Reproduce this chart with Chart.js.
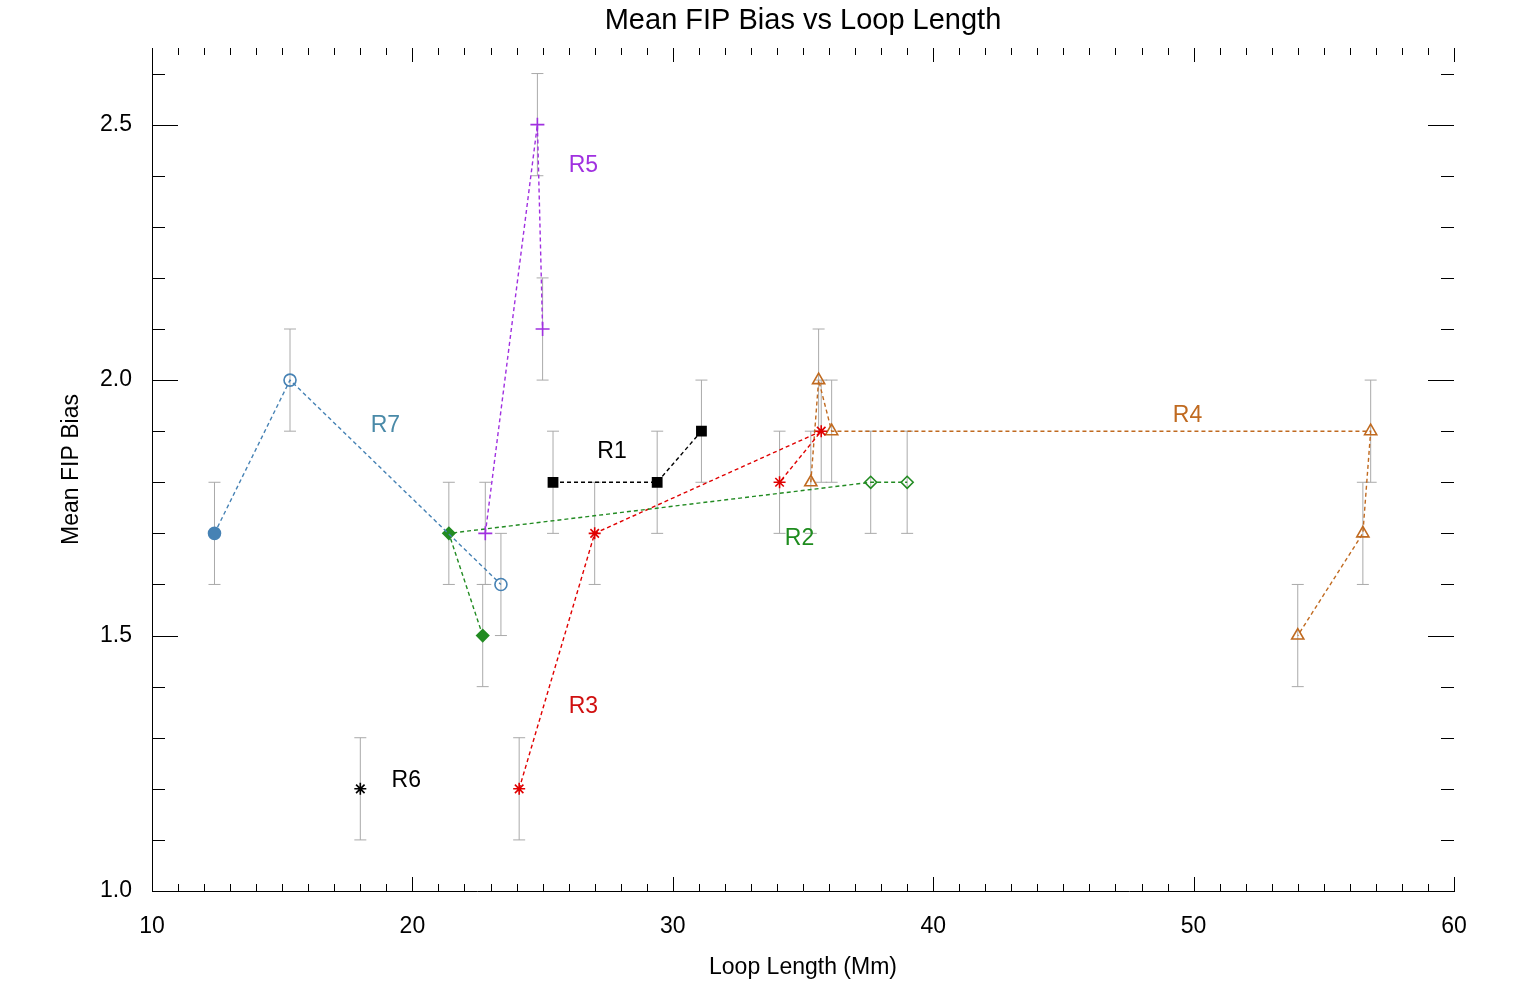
<!DOCTYPE html>
<html><head><meta charset="utf-8">
<script src="https://cdn.jsdelivr.net/npm/chart.js@4"></script>
<style>html,body{margin:0;padding:0;background:#fff}#w{width:1530px;height:992px}</style>
</head><body><div id="w"><canvas id="c"></canvas></div>
<script>
const r7x=[12.4,15.3,23.4], r7y=[1.7,2.0,1.6];
const r5x=[22.8,24.8,25.0], r5y=[1.7,2.5,2.1];
const r2x=[22.7,21.4,37.6,39.0], r2y=[1.5,1.7,1.8,1.8];
const r1x=[25.4,29.4,31.1], r1y=[1.8,1.8,1.9];
const r3x=[24.1,27.0,35.7,34.1], r3y=[1.2,1.7,1.9,1.8];
const r6x=[18.0], r6y=[1.2];
const r4x=[35.3,35.6,36.1,56.8,56.5,54.0], r4y=[1.8,2.0,1.9,1.9,1.7,1.5];
const errBar=0.1;
const yTicks=[1.0,1.5,2.0,2.5];
const labels=[["R5",26.0,2.42,"#a030e0"],["R7",18.4,1.91,"#4a8aa8"],["R1",27.1,1.86,"#000"],["R4",49.2,1.93,"#c06a20"],["R2",34.3,1.69,"#1e8c1e"],["R3",26.0,1.36,"#d01010"],["R6",19.2,1.215,"#000"]];
const pts=(xs,ys)=>xs.map((x,i)=>({x,y:ys[i]}));
function ds(xs,ys,col,style,fills,r,showLine=true){
  return {data:pts(xs,ys),borderColor:col,pointBorderColor:col,pointBackgroundColor:fills.map(f=>f?col:'rgba(0,0,0,0)'),
    pointStyle:style,pointRadius:r,pointBorderWidth:1.6,borderWidth:1.4,borderDash:[4,3],showLine,fill:false,tension:0};
}
const data={datasets:[
  ds(r7x,r7y,'#4682b4','circle',[1,0,0],6),
  ds(r5x,r5y,'#a030e0','cross',[0,0,0],7),
  ds(r2x,r2y,'#228b22','rectRot',[1,1,0,0],6),
  ds(r1x,r1y,'#000','rect',[1,1,1],6.5),
  ds(r3x,r3y,'#e00000','star',[0,0,0,0],6),
  ds(r6x,r6y,'#000','star',[0],6,false),
  ds(r4x,r4y,'#c06a20','triangle',[0,0,0,0,0,0],7),
]};
const F='"Liberation Sans", Arial';
const deco={id:'deco',
  beforeDatasetsDraw(ch){
    const c=ch.ctx,xs=ch.scales.x,ys=ch.scales.y;
    c.save();c.strokeStyle='#aaa';c.lineWidth=1;
    ch.data.datasets.forEach(d=>d.data.forEach(p=>{
      const px=xs.getPixelForValue(p.x),a=ys.getPixelForValue(p.y-errBar),b=ys.getPixelForValue(p.y+errBar);
      c.beginPath();c.moveTo(px,a);c.lineTo(px,b);
      c.moveTo(px-6,a);c.lineTo(px+6,a);c.moveTo(px-6,b);c.lineTo(px+6,b);c.stroke();
    }));
    c.restore();
  },
  afterDraw(ch){
    const c=ch.ctx,xs=ch.scales.x,ys=ch.scales.y,A=ch.chartArea;
    c.save();c.strokeStyle='#000';c.lineWidth=1;c.beginPath();
    for(let v=10;v<=60;v++){const px=Math.round(xs.getPixelForValue(v))+0.5,L=v%10===0?14:7;
      c.moveTo(px,A.bottom);c.lineTo(px,A.bottom-L);c.moveTo(px,A.top);c.lineTo(px,A.top+L);}
    for(let k=10;k<=26;k++){const v=k/10,py=Math.round(ys.getPixelForValue(v))+0.5,L=k%5===0?26:13;
      c.moveTo(A.left,py);c.lineTo(A.left+L,py);c.moveTo(A.right,py);c.lineTo(A.right-L,py);}
    c.stroke();
    c.font='23px '+F;c.textAlign='left';c.textBaseline='middle';
    labels.forEach(([t,x,y,col])=>{c.fillStyle=col;c.fillText(t,xs.getPixelForValue(x),ys.getPixelForValue(y));});
    c.fillStyle='#000';c.font='29px '+F;c.textAlign='center';
    c.fillText('Mean FIP Bias vs Loop Length',(A.left+A.right)/2,21);
    c.font='23px '+F;
    c.fillText('Loop Length (Mm)',(A.left+A.right)/2,968);
    c.translate(72,(A.top+A.bottom)/2);c.rotate(-Math.PI/2);c.fillText('Mean FIP Bias',0,0);
    c.restore();
  }};
new Chart(document.getElementById('c'),{type:'scatter',data,plugins:[deco],
 options:{responsive:true,maintainAspectRatio:false,animation:false,
  layout:{padding:{top:48,right:76,left:0,bottom:0}},
  plugins:{legend:{display:false},tooltip:{enabled:false}},
  scales:{
   x:{min:10,max:60,grid:{display:false},border:{color:'#000'},
      ticks:{stepSize:10,color:'#000',font:{size:23,family:F},padding:14,maxRotation:0},
      afterFit(s){s.height=101;}},
   y:{min:1.0,max:2.65,grid:{display:false},border:{color:'#000'},
      afterBuildTicks(s){s.ticks=yTicks.map(v=>({value:v}));},
      ticks:{color:'#000',font:{size:23,family:F},padding:12,callback:v=>Number(v).toFixed(1)},
      afterFit(s){s.width=152;}}
  }}});
</script></body></html>
